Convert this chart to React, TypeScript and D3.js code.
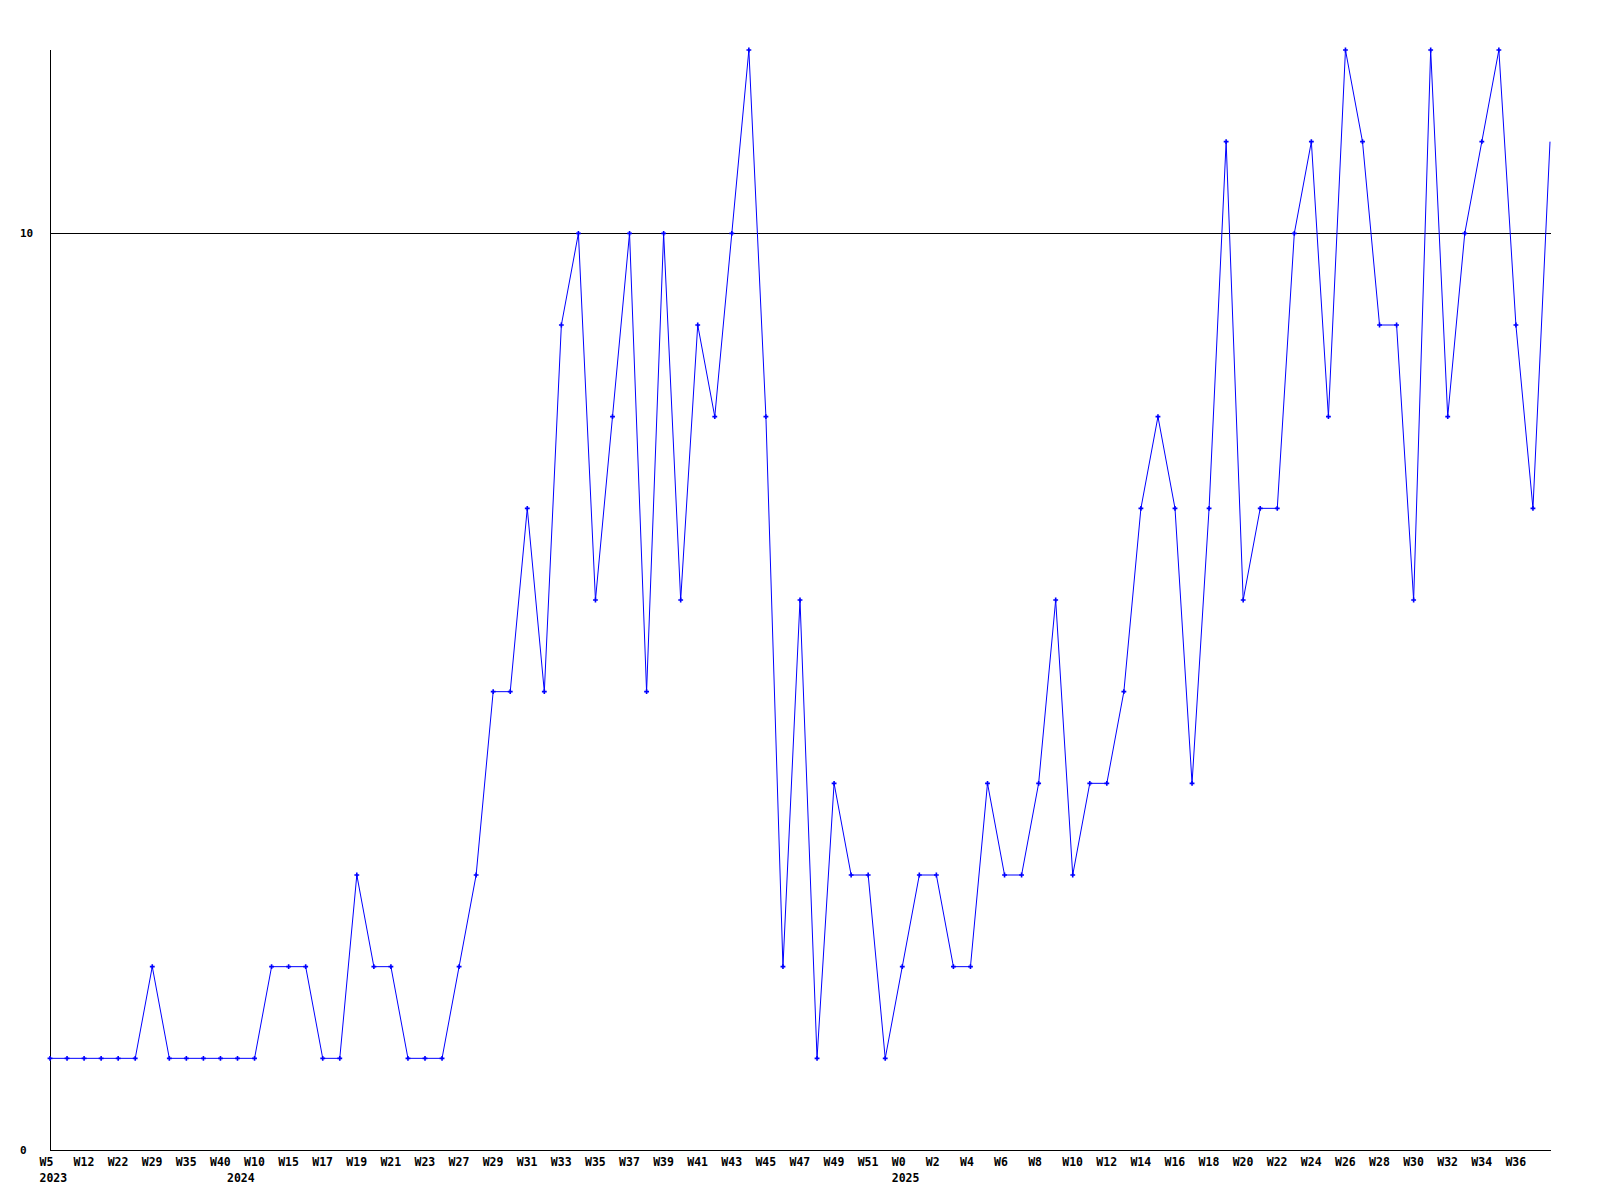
import React from "react";
import * as d3 from "d3";

const weeks2023 = ["W5", "W8", "W12", "W17", "W22", "W26", "W29", "W32", "W35", "W38", "W40"];
const weeks2024 = [
  "W8", "W10", "W13", "W15", "W16", "W17", "W18", "W19", "W20", "W21", "W22", "W23", "W25",
  "W27", "W28", "W29", "W30", "W31", "W32", "W33", "W34", "W35", "W36", "W37", "W38", "W39",
  "W40", "W41", "W42", "W43", "W44", "W45", "W46", "W47", "W48", "W49", "W50", "W51", "W52",
];
const weeks2025 = Array.from({ length: 39 }, (_, i) => "W" + i);
const years = ["2023", "2024", "2025"];

const values = [
  1, 1, 1, 1, 1, 1, 2, 1, 1, 1, 1,
  1, 1, 2, 2, 2, 1, 1, 3, 2, 2, 1, 1, 1, 2, 3, 5, 5, 7, 5, 9, 10, 6, 8, 10, 5, 10, 6, 9, 8,
  10, 12, 8, 2, 6, 1, 4, 3, 3, 1,
  2, 3, 3, 2, 2, 4, 3, 3, 4, 6, 3, 4, 4, 5, 7, 8, 7, 4, 7, 11, 6, 7, 7, 10, 11, 8, 12, 11,
  9, 9, 6, 12, 8, 10, 11, 12, 9, 7, 11,
];
const yTicks = [0, 10];

const W = 1600;
const H = 1200;
const FONT = "'DejaVu Sans Mono', monospace";

export default function App() {
  const groups = [weeks2023, weeks2024, weeks2025];
  const labels: { week: string; year: string | null }[] = [];
  groups.forEach((g, gi) =>
    g.forEach((w, wi) => labels.push({ week: w, year: wi === 0 ? years[gi] : null }))
  );
  const n = values.length;
  const x = d3.scaleLinear().domain([0, n - 1]).range([50, 1550]);
  const y = d3.scaleLinear().domain([0, 12]).range([1150, 50]);
  const line = d3
    .line<number>()
    .x((_, i) => x(i))
    .y((d) => y(d));
  const cross = d3.symbol().type(d3.symbolCross).size(13)();

  return (
    <svg
      width={W}
      height={H}
      style={{ position: "absolute", left: 0, top: 0, background: "#fff" }}
      fontFamily={FONT}
    >
      <rect width={W} height={H} fill="#fff" />
      {/* y axis */}
      <line x1={50} x2={50} y1={y(12)} y2={y(0)} stroke="#000" shapeRendering="crispEdges" />
      {/* x axis */}
      <line x1={50} x2={1551} y1={y(0)} y2={y(0)} stroke="#000" shapeRendering="crispEdges" />
      {yTicks.map((t) => (
        <g key={t}>
          {t !== 0 && (
            <line x1={50} x2={1551} y1={y(t)} y2={y(t)} stroke="#000" shapeRendering="crispEdges" />
          )}
          <text x={20} y={y(t)} dy="0.35em" fontSize={11} fontWeight="bold" fill="#000">
            {t}
          </text>
        </g>
      ))}
      {labels.map((l, i) => (
        <g key={i}>
          {i % 2 === 0 && i < n - 1 && (
            <text x={x(i) - 10.5} y={1166} fontSize={11.5} fontWeight="bold" fill="#000">
              {l.week}
            </text>
          )}
          {l.year && (
            <text x={x(i) - 10.5} y={1182} fontSize={11.5} fontWeight="bold" fill="#000">
              {l.year}
            </text>
          )}
        </g>
      ))}
      <path d={line(values) || ""} fill="none" stroke="#0000ff" strokeWidth={1} />
      {values.slice(0, n - 1).map((v, i) => (
        <path key={i} d={cross || ""} transform={`translate(${x(i)},${y(v)})`} fill="#0000ff" />
      ))}
    </svg>
  );
}
